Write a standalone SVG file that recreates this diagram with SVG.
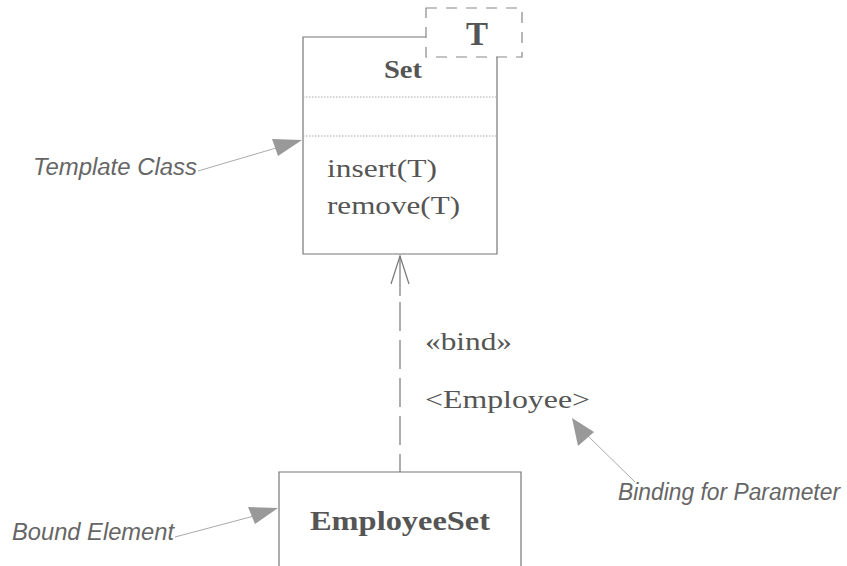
<svg xmlns="http://www.w3.org/2000/svg" width="847" height="566" viewBox="0 0 847 566">
<style>
.box{fill:#fff;stroke:#777;stroke-width:1.2}
.ser{font-family:"Liberation Serif","Times New Roman",serif;fill:#555}
.bold{font-weight:bold}
.lab{font-family:"Liberation Sans",Arial,sans-serif;font-style:italic;font-size:23px;fill:#666}
.div{stroke:#aaa;stroke-width:1.2;stroke-dasharray:1.5 1.5}
.lead{stroke:#aaa;stroke-width:1;fill:none}
.head{fill:#999}
</style>
<rect width="847" height="566" fill="#fff"/>
<g id="set">
<path class="box" d="M426,37 H303 V254 H497 V57" fill="#fff"/>
<line class="div" x1="303" y1="97" x2="497" y2="97"/>
<line class="div" x1="303" y1="136" x2="497" y2="136"/>
<text class="ser bold" x="403" y="78" font-size="25" text-anchor="middle" textLength="38" lengthAdjust="spacingAndGlyphs">Set</text>
<text class="ser" x="327" y="177" font-size="26" textLength="110" lengthAdjust="spacingAndGlyphs">insert(T)</text>
<text class="ser" x="327" y="214" font-size="26" textLength="133" lengthAdjust="spacingAndGlyphs">remove(T)</text>
</g>
<g id="param">
<rect x="426" y="8" width="96" height="49" fill="#fff" stroke="#888" stroke-width="1.2" stroke-dasharray="11 9"/>
<text class="ser bold" x="477" y="45" font-size="33" text-anchor="middle">T</text>
</g>
<g id="employeeset">
<path class="box" d="M279,566 V472 H521 V566"/>
<text class="ser bold" x="400" y="530" font-size="27" text-anchor="middle" textLength="180" lengthAdjust="spacingAndGlyphs">EmployeeSet</text>
</g>
<g id="connectors">
<line x1="400" y1="256" x2="400" y2="296" stroke="#777" stroke-width="1.2"/>
<line x1="400" y1="302" x2="400" y2="472" stroke="#777" stroke-width="1.2" stroke-dasharray="29 9"/>
<path d="M391,284 L400,256 L409,284" fill="none" stroke="#777" stroke-width="1.2"/>
<text class="ser" x="425" y="350" font-size="26" textLength="87" lengthAdjust="spacingAndGlyphs">«bind»</text>
<text class="ser" x="425" y="408" font-size="26" textLength="165" lengthAdjust="spacingAndGlyphs">&lt;Employee&gt;</text>
</g>
<g id="note-template">
<text class="lab" x="33" y="175" textLength="164" lengthAdjust="spacingAndGlyphs">Template Class</text>
<line class="lead" x1="198" y1="171" x2="276" y2="148"/>
<path class="head" d="M302,140 L272,139 L278,156 Z"/>
</g>
<g id="note-bound">
<text class="lab" x="12" y="540" textLength="162" lengthAdjust="spacingAndGlyphs">Bound Element</text>
<line class="lead" x1="175" y1="537" x2="254" y2="516"/>
<path class="head" d="M278,508 L248,507 L255,524 Z"/>
</g>
<g id="note-binding">
<text class="lab" x="618" y="500" textLength="222" lengthAdjust="spacingAndGlyphs">Binding for Parameter</text>
<line class="lead" x1="635" y1="482" x2="586" y2="434"/>
<path class="head" d="M572,418 L578,446 L594,432 Z"/>
</g>
</svg>
